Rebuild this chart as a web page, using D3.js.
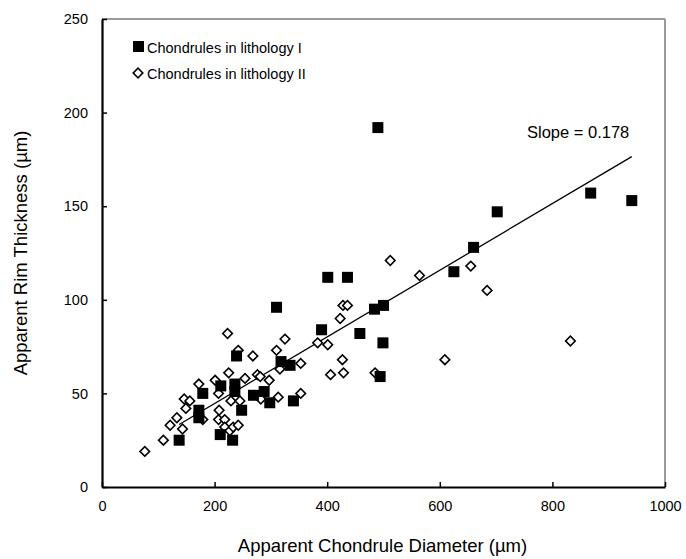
<!DOCTYPE html>
<html>
<head>
<meta charset="utf-8">
<script src="https://cdn.jsdelivr.net/npm/d3@7"></script>
<style>
  body { margin: 0; background: #fff; }
  text { font-family: "Liberation Sans", Arial, sans-serif; fill: #000; }
</style>
</head>
<body>
<script>
// lithology I (filled squares)
const litho1X = [137, 172, 172, 179, 210, 211, 232, 236, 236, 239, 248, 269, 288, 298, 310, 318, 334, 340,
                 390, 401, 436, 458, 484, 500, 499, 494, 490, 625, 660, 702, 868, 941];
const litho1Y = [25, 37, 41, 50, 28, 54, 25, 51, 55, 70, 41, 49, 51, 45, 96, 67, 65, 46,
                 84, 112, 112, 82, 95, 97, 77, 59, 192, 115, 128, 147, 157, 153];

// lithology II (open diamonds)
const litho2X = [76, 109, 121, 133, 143, 146, 149, 156, 172, 179, 201, 207, 207, 208, 218, 218, 223, 225, 227, 229,
                 233, 242, 242, 245, 254, 268, 276, 281, 282, 297, 310, 313, 316, 325, 353, 353, 383, 401, 406, 423,
                 428, 436, 427, 429, 485, 512, 564, 609, 655, 684, 832];
const litho2Y = [19, 25, 33, 37, 31, 47, 42, 46, 55, 36, 57, 50, 36, 41, 36, 32, 82, 61, 30, 46,
                 32, 33, 73, 46, 58, 70, 60, 59, 47, 57, 73, 48, 63, 79, 66, 50, 77, 76, 60, 90,
                 97, 97, 68, 61, 61, 121, 113, 68, 118, 105, 78];

const xTicks = [0, 200, 400, 600, 800, 1000];
const yTicks = [0, 50, 100, 150, 200, 250];

const fitSlope = 0.178;
const fitIntercept = 9.0;

const margin = {top: 19, bottom: 72, left: 102, right: 21};
const width = 686 - margin.left - margin.right;
const height = 559 - margin.top - margin.bottom;

const svg = d3.select('body').append('svg')
    .attr('width', 686)
    .attr('height', 559);

const g = svg.append('g')
    .attr('transform', `translate(${margin.left},${margin.top})`);

const x = d3.scaleLinear().domain([0, 1000]).range([0, width]);
const y = d3.scaleLinear().domain([0, 250]).range([height, 0]);

// frame: top and right in grey
g.append('line').attr('x1', 0).attr('x2', width).attr('y1', 0).attr('y2', 0)
    .attr('stroke', '#9a9a9a').attr('stroke-width', 2);
g.append('line').attr('x1', width).attr('x2', width).attr('y1', 0).attr('y2', height)
    .attr('stroke', '#9a9a9a').attr('stroke-width', 2);

// axes, ticks pointing inward
const xAxis = g.append('g')
    .attr('transform', `translate(0,${height})`)
    .call(d3.axisBottom(x).tickValues(xTicks).tickFormat(d3.format('d'))
      .tickSizeInner(-5).tickSizeOuter(0).tickPadding(14));
const yAxis = g.append('g')
    .call(d3.axisLeft(y).tickValues(yTicks).tickFormat(d3.format('d'))
      .tickSizeInner(-5).tickSizeOuter(0).tickPadding(14));

[xAxis, yAxis].forEach(a => {
  a.select('.domain').attr('stroke', '#000').attr('stroke-width', 2.2);
  a.selectAll('.tick line').attr('stroke', '#000').attr('stroke-width', 1.5);
  a.selectAll('.tick text').attr('font-size', 14.5).attr('font-family', '"Liberation Sans", Arial, sans-serif');
});

// fit line over the lithology I range
const ext = d3.extent(litho1X);
g.append('line')
    .attr('x1', x(ext[0])).attr('y1', y(fitSlope * ext[0] + fitIntercept))
    .attr('x2', x(ext[1])).attr('y2', y(fitSlope * ext[1] + fitIntercept))
    .attr('stroke', '#000').attr('stroke-width', 1.3);

const diamond = d3.symbol().type(d3.symbolSquare).size(46);

// lithology II diamonds
g.selectAll('path.d2').data(litho2X).join('path')
    .attr('class', 'd2')
    .attr('d', diamond)
    .attr('transform', (d, i) => `translate(${x(d)},${y(litho2Y[i])}) rotate(45)`)
    .attr('fill', '#fff').attr('stroke', '#000').attr('stroke-width', 1.6);

// lithology I squares
const sq = 11;
g.selectAll('rect.d1').data(litho1X).join('rect')
    .attr('class', 'd1')
    .attr('x', d => x(d) - sq / 2)
    .attr('y', (d, i) => y(litho1Y[i]) - sq / 2)
    .attr('width', sq).attr('height', sq)
    .attr('fill', '#000');

// slope label
g.append('text')
    .attr('x', 425).attr('y', 119)
    .attr('font-size', 16.5)
    .text('Slope = ' + fitSlope);

// legend
const legend = g.append('g').attr('transform', 'translate(37,28)');
legend.append('rect').attr('x', -6).attr('y', -6).attr('width', 11).attr('height', 11).attr('fill', '#000');
legend.append('text').attr('x', 8).attr('y', 5.5).attr('font-size', 14.5).text('Chondrules in lithology I');
legend.append('path').attr('d', diamond)
    .attr('transform', 'translate(-1,26) rotate(45)')
    .attr('fill', '#fff').attr('stroke', '#000').attr('stroke-width', 1.6);
legend.append('text').attr('x', 8).attr('y', 31.5).attr('font-size', 14.5).text('Chondrules in lithology II');

// axis titles
svg.append('text')
    .attr('x', margin.left + width / 2 - 1).attr('y', 552)
    .attr('text-anchor', 'middle').attr('font-size', 18.5)
    .text('Apparent Chondrule Diameter (µm)');
svg.append('text')
    .attr('transform', `translate(27,${margin.top + height / 2}) rotate(-90)`)
    .attr('text-anchor', 'middle').attr('font-size', 18.5)
    .text('Apparent Rim Thickness (µm)');
</script>
</body>
</html>
